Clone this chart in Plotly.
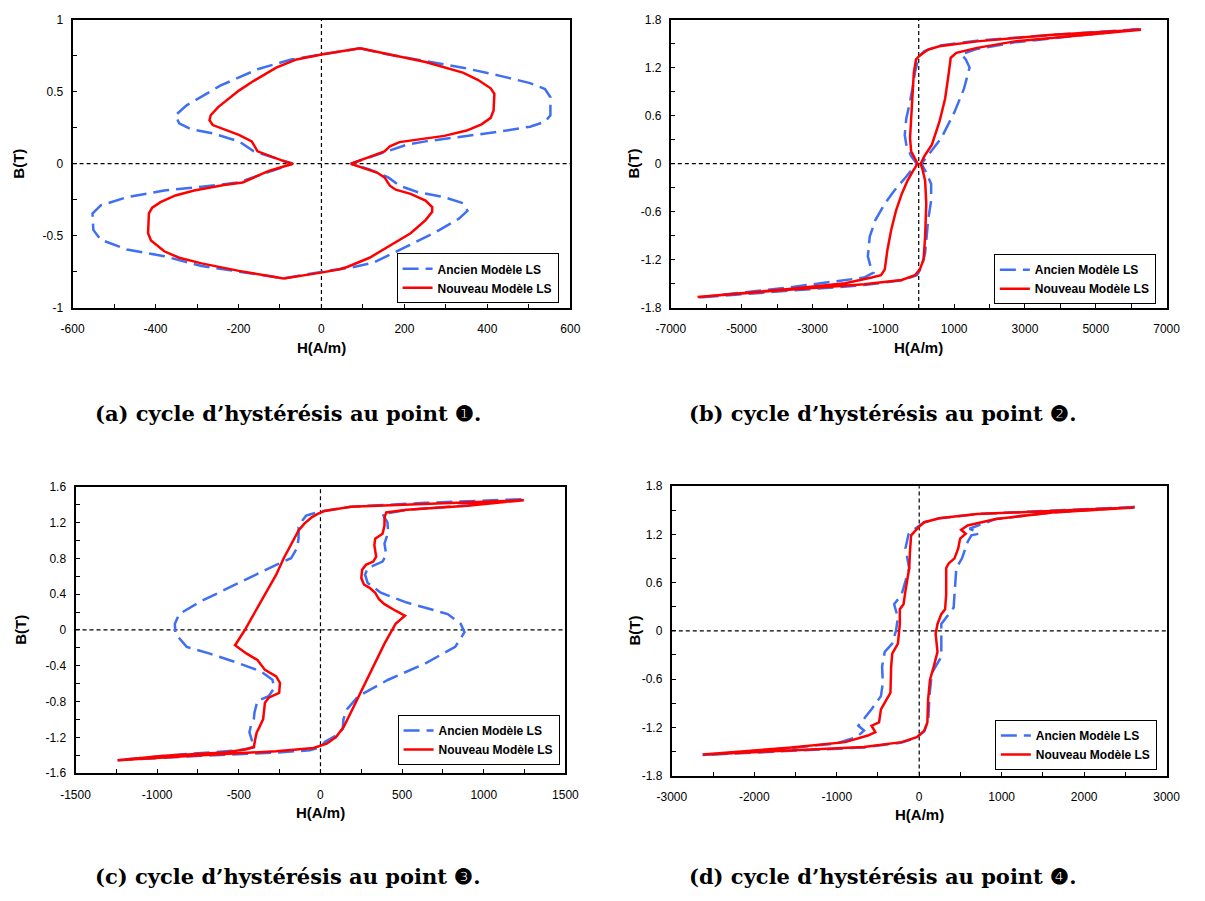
import numpy as np
import plotly.graph_objects as go

# ---------------- data ----------------
# (a) point 1
a_new_H = [93,161,251,341,377,408,417,415,408,386,350,296,233,188,165,152,116,71,
           98,134,152,165,179,215,251,267,267,251,215,170,116,62,44,-1,-91,
           -199,-289,-343,-379,-411,-418,-416,-408,-388,-352,-307,-235,-190,-163,-127,-69,
           -91,-154,-168,-199,-244,-262,-270,-267,-249,-199,-163,-109,-60,0,93]
a_new_B = [0.80,0.761,0.705,0.632,0.582,0.523,0.484,0.370,0.318,0.273,0.230,0.193,0.166,0.150,0.120,0.086,0.048,0.0,
           -0.027,-0.061,-0.095,-0.152,-0.180,-0.209,-0.255,-0.300,-0.334,-0.391,-0.482,-0.561,-0.652,-0.716,-0.732,-0.755,-0.795,
           -0.743,-0.691,-0.652,-0.607,-0.532,-0.482,-0.345,-0.305,-0.266,-0.220,-0.186,-0.148,-0.130,-0.095,-0.05,0.0,
           0.018,0.086,0.155,0.2,0.245,0.268,0.302,0.336,0.393,0.507,0.575,0.666,0.723,0.757,0.80]
a_old_H = [93,161,251,341,431,503,539,552,552,539,503,431,341,251,206,161,116,71,
           116,161,188,233,296,341,352,332,278,206,125,71,-1,-91,
           -199,-289,-379,-469,-532,-550,-552,-532,-469,-379,-289,-199,-154,-109,-69,
           -109,-163,-199,-262,-316,-343,-352,-325,-244,-154,-73,0,93]
a_old_B = [0.80,0.757,0.711,0.666,0.609,0.559,0.518,0.461,0.336,0.291,0.257,0.223,0.189,0.155,0.132,0.086,0.045,0.0,
           -0.039,-0.095,-0.152,-0.198,-0.232,-0.273,-0.327,-0.380,-0.470,-0.573,-0.686,-0.720,-0.75,-0.795,
           -0.75,-0.709,-0.641,-0.595,-0.527,-0.459,-0.345,-0.289,-0.232,-0.186,-0.159,-0.130,-0.084,-0.039,0.0,
           0.036,0.086,0.155,0.211,0.241,0.280,0.336,0.405,0.541,0.655,0.723,0.757,0.80]

# (b) point 2
b_new_H = [6276,3776,1649,585,266,32,-75,-138,-192,-245,-213,-106,-32,
           -160,-319,-479,-638,-777,-883,-958,-1064,-1330,-2075,-3670,-6245,
           -3670,-1543,-479,-106,32,138,181,213,181,106,53,
           160,372,585,745,851,904,1064,1649,2713,4308,6276]
b_new_B = [1.671,1.609,1.527,1.466,1.425,1.351,1.302,1.138,0.729,0.319,0.156,0.053,0.0,
           -0.09,-0.213,-0.377,-0.581,-0.827,-1.073,-1.319,-1.392,-1.421,-1.491,-1.564,-1.663,
           -1.572,-1.503,-1.450,-1.392,-1.319,-1.196,-0.909,-0.5,-0.213,-0.07,0.0,
           0.094,0.238,0.524,0.811,1.138,1.323,1.384,1.446,1.527,1.589,1.671]
b_old_H = [6223,3776,1649,585,160,0,-106,-160,-266,-351,-394,-351,-213,-53,
           -372,-692,-958,-1224,-1383,-1436,-1351,-1277,-1543,-3670,-6245,
           -3670,-1543,-479,-53,74,181,266,351,351,213,74,
           319,638,1011,1277,1436,1330,1202,1649,2713,4308,6223]
b_old_B = [1.679,1.609,1.536,1.474,1.405,1.335,1.138,0.975,0.729,0.565,0.360,0.238,0.094,0.0,
           -0.172,-0.336,-0.5,-0.704,-0.909,-1.155,-1.298,-1.360,-1.421,-1.544,-1.671,
           -1.585,-1.515,-1.454,-1.392,-1.298,-1.114,-0.704,-0.459,-0.254,-0.111,0.0,
           0.135,0.319,0.647,0.934,1.2,1.302,1.364,1.433,1.515,1.589,1.679]

# (c) point 3
c_new_H = [1245,642,186,26,-20,-54,-100,-134,-168,-191,-225,-271,-339,-408,-465,-523,
           -454,-386,-340,-271,-248,-253,-317,-340,-351,-374,-390,-397,-408,-454,-591,-956,-1242,
           -728,-271,-42,38,95,141,186,255,323,392,460,517,
           460,392,358,335,301,266,250,255,278,323,341,330,335,380,392,392,403,529,900,1245]
c_new_B = [1.45,1.413,1.377,1.33,1.294,1.258,1.185,1.111,1.001,0.910,0.801,0.617,0.398,0.178,-0.006,-0.171,
           -0.262,-0.336,-0.446,-0.519,-0.592,-0.702,-0.757,-0.812,-0.995,-1.087,-1.142,-1.197,-1.307,-1.333,-1.370,-1.406,-1.454,
           -1.399,-1.355,-1.318,-1.270,-1.197,-1.087,-0.922,-0.666,-0.409,-0.152,0.068,0.160,
           0.215,0.288,0.343,0.416,0.471,0.508,0.581,0.672,0.727,0.764,0.819,0.947,1.020,1.075,1.167,1.258,1.313,1.342,1.387,1.45]
c_old_H = [1230,642,186,3,-88,-111,-134,-134,-145,-180,-271,-500,-728,-865,-892,-888,-819,-682,-500,-363,-294,-283,
           -317,-386,-404,-408,-426,-435,-417,-397,-500,-911,-1242,
           -728,-271,-65,3,26,95,136,141,163,232,415,643,825,882,859,779,529,369,289,273,289,380,403,392,415,410,380,529,900,1230]
c_old_B = [1.46,1.42,1.377,1.325,1.277,1.222,1.148,1.020,0.910,0.801,0.727,0.526,0.324,0.178,0.068,-0.043,-0.189,-0.262,-0.372,-0.464,-0.556,-0.647,
           -0.739,-0.794,-0.922,-0.995,-1.069,-1.142,-1.252,-1.307,-1.344,-1.399,-1.454,
           -1.406,-1.370,-1.344,-1.307,-1.252,-1.179,-1.106,-0.995,-0.885,-0.739,-0.556,-0.372,-0.189,-0.024,0.068,0.178,0.306,0.416,0.526,0.617,0.690,0.764,0.837,0.965,1.093,1.203,1.295,1.342,1.394,1.46]

# (d) point 4
d_new_H = [2612,1615,701,244,62,-7,-66,-98,-112,-121,-167,-190,-235,-235,-258,-327,-340,-349,-395,-464,-487,-578,-532,-623,-898,-1583,-2625,
           -1583,-670,-213,-30,62,99,108,131,176,222,199,222,268,314,327,327,359,428,473,496,564,509,587,930,1615,2612]
d_new_B = [1.535,1.494,1.453,1.400,1.351,1.290,1.229,1.188,0.984,0.780,0.494,0.331,0.269,0.086,-0.159,-0.282,-0.445,-0.772,-0.853,-0.976,-1.139,-1.180,-1.261,-1.302,-1.384,-1.453,-1.539,
           -1.486,-1.445,-1.384,-1.323,-1.241,-1.139,-0.853,-0.608,-0.445,-0.261,-0.037,0.086,0.208,0.269,0.453,0.780,0.841,0.902,1.025,1.147,1.208,1.257,1.310,1.392,1.473,1.535]
d_old_H = [2612,1615,701,244,62,-7,-80,-130,-167,-121,-213,-304,-258,-281,-327,-418,-450,-441,-464,-578,-669,-738,-669,-761,-1000,-1583,-2625,
           -1583,-670,-213,-30,62,110,125,153,268,268,268,359,418,428,450,519,587,633,724,656,610,930,1615,2612]
d_old_B = [1.540,1.494,1.453,1.400,1.351,1.300,1.250,1.200,1.025,0.780,0.453,0.331,0.167,0.004,-0.159,-0.261,-0.445,-0.649,-0.812,-0.976,-1.098,-1.180,-1.241,-1.323,-1.400,-1.460,-1.545,
           -1.490,-1.450,-1.390,-1.330,-1.250,-1.100,-0.800,-0.527,-0.322,-0.118,0.086,0.208,0.290,0.453,0.780,0.902,1.106,1.188,1.208,1.249,1.270,1.392,1.473,1.540]

series_names = ["Ancien Modèle LS", "Nouveau Modèle LS"]
captions = ["(a) cycle d’hystérésis au point ❶.",
            "(b) cycle d’hystérésis au point ❷.",
            "(c) cycle d’hystérésis au point ❸.",
            "(d) cycle d’hystérésis au point ❹."]
x_title = "H(A/m)"
y_title = "B(T)"

# axis tick definitions: (min, max, tick step, labelled values)
a_xticks = (-600, 600, 100, [-600, -400, -200, 0, 200, 400, 600])
a_yticks = (-1, 1, 0.25, [-1, -0.5, 0, 0.5, 1])
b_xticks = (-7000, 7000, 1000, [-7000, -5000, -3000, -1000, 1000, 3000, 5000, 7000])
b_yticks = (-1.8, 1.8, 0.3, [-1.8, -1.2, -0.6, 0, 0.6, 1.2, 1.8])
c_xticks = (-1500, 1500, 250, [-1500, -1000, -500, 0, 500, 1000, 1500])
c_yticks = (-1.6, 1.6, 0.2, [-1.6, -1.2, -0.8, -0.4, 0, 0.4, 0.8, 1.2, 1.6])
d_xticks = (-3000, 3000, 500, [-3000, -2000, -1000, 0, 1000, 2000, 3000])
d_yticks = (-1.8, 1.8, 0.3, [-1.8, -1.2, -0.6, 0, 0.6, 1.2, 1.8])

# ---------------- layout helpers ----------------
W, H = 1205, 901
def px_x(p): return p / W
def px_y(p): return 1 - p / H

panels = [
    dict(old=(a_old_H, a_old_B), new=(a_new_H, a_new_B), xt=a_xticks, yt=a_yticks,
         box=(59, 569, 12.7, 305.7), leg=(557, 301), cap=(280, 413), ytx=4),
    dict(old=(b_old_H, b_old_B), new=(b_new_H, b_new_B), xt=b_xticks, yt=b_yticks,
         box=(672, 1180, 12.7, 305.7), leg=(1169, 302), cap=(889, 413), ytx=634),
    dict(old=(c_old_H, c_old_B), new=(c_new_H, c_new_B), xt=c_xticks, yt=c_yticks,
         box=(62, 564, 487.3, 778.3), leg=(558, 770), cap=(280, 883), ytx=6),
    dict(old=(d_old_H, d_old_B), new=(d_new_H, d_new_B), xt=d_xticks, yt=d_yticks,
         box=(673, 1180, 486.7, 780.7), leg=(1170, 775), cap=(889, 883), ytx=635),
]

def fmt(v):
    v = float(v) + 0.0
    if abs(v) < 1e-9:
        v = 0.0
    return "%g" % v

def tick_arrays(spec):
    lo, hi, step, labels = spec
    vals = np.round(np.arange(lo, hi + step / 2, step), 6) + 0.0
    lab = set(round(float(x), 6) + 0.0 for x in labels)
    text = [fmt(v) if (round(float(v), 6) + 0.0) in lab else "" for v in vals]
    return vals.tolist(), text

BLUE = "#3f6ff2"
RED = "#ff0000"
SANS = "Liberation Sans, Arial"
tickfont = dict(family=SANS, size=12, color="black")

fig = go.Figure()
annotations = []
shapes = []
for i, p in enumerate(panels):
    n = "" if i == 0 else str(i + 1)
    xa, ya = "x" + n, "y" + n
    legname = "legend" + n
    fig.add_trace(go.Scatter(x=p["old"][0], y=p["old"][1], mode="lines", name=series_names[0],
                             line=dict(color=BLUE, width=2.5, dash="16px,7px"),
                             xaxis=xa, yaxis=ya, legend=legname, hoverinfo="skip"))
    fig.add_trace(go.Scatter(x=p["new"][0], y=p["new"][1], mode="lines", name=series_names[1],
                             line=dict(color=RED, width=2.5),
                             xaxis=xa, yaxis=ya, legend=legname, hoverinfo="skip"))
    l, r, t, b = p["box"]
    xv, xtx = tick_arrays(p["xt"])
    yv, ytx = tick_arrays(p["yt"])
    common = dict(showline=True, linecolor="black", linewidth=2, mirror=True,
                  showgrid=False, zeroline=False, ticks="inside", ticklen=4,
                  tickwidth=1, tickcolor="black", tickmode="array", tickfont=tickfont)
    fig.update_layout(**{
        "xaxis" + n: dict(domain=[px_x(l), px_x(r)], range=[p["xt"][0], p["xt"][1]],
                          anchor=ya, tickvals=xv, ticktext=xtx, ticklabelstandoff=9, **common),
        "yaxis" + n: dict(domain=[px_y(b), px_y(t)], range=[p["yt"][0], p["yt"][1]],
                          anchor=xa, tickvals=yv, ticktext=ytx, ticklabelstandoff=5, **common),
        legname: dict(x=px_x(p["leg"][0]), y=px_y(p["leg"][1]), xanchor="right", yanchor="bottom",
                      xref="paper", yref="paper",
                      bgcolor="white", bordercolor="black", borderwidth=1,
                      font=dict(family=SANS, size=12, color="black", weight="bold"),
                      tracegroupgap=0, itemwidth=30),
    })
    # dashed zero axes
    shapes.append(dict(type="line", xref=xa, yref=ya + " domain", x0=0, x1=0, y0=0, y1=1,
                       line=dict(color="black", width=1.2, dash="4px,3px"), layer="below"))
    shapes.append(dict(type="line", xref=xa + " domain", yref=ya, x0=0, x1=1, y0=0, y1=0,
                       line=dict(color="black", width=1.2, dash="4px,3px"), layer="below"))
    # axis titles
    annotations.append(dict(text="<b>" + x_title + "</b>", xref="paper", yref="paper",
                            x=px_x((l + r) / 2), y=px_y(b + 40), showarrow=False,
                            xanchor="center", yanchor="middle",
                            font=dict(family=SANS, size=15, color="black")))
    annotations.append(dict(text="<b>" + y_title + "</b>", xref="paper", yref="paper",
                            x=px_x(p["ytx"]), y=px_y((t + b) / 2), showarrow=False, textangle=-90,
                            xanchor="center", yanchor="middle",
                            font=dict(family=SANS, size=15, color="black")))
    annotations.append(dict(text="<b>" + captions[i] + "</b>", xref="paper", yref="paper",
                            x=px_x(p["cap"][0]), y=px_y(p["cap"][1]), showarrow=False,
                            xanchor="center", yanchor="middle",
                            font=dict(family="DejaVu Serif, serif", size=21, color="black")))

fig.update_layout(width=W, height=H, margin=dict(l=0, r=0, t=0, b=0, pad=0),
                  paper_bgcolor="white", plot_bgcolor="white",
                  annotations=annotations, shapes=shapes, showlegend=True)

fig.write_html("out.html", config={"displayModeBar": False},
               post_script="document.body.style.margin='0px';")
